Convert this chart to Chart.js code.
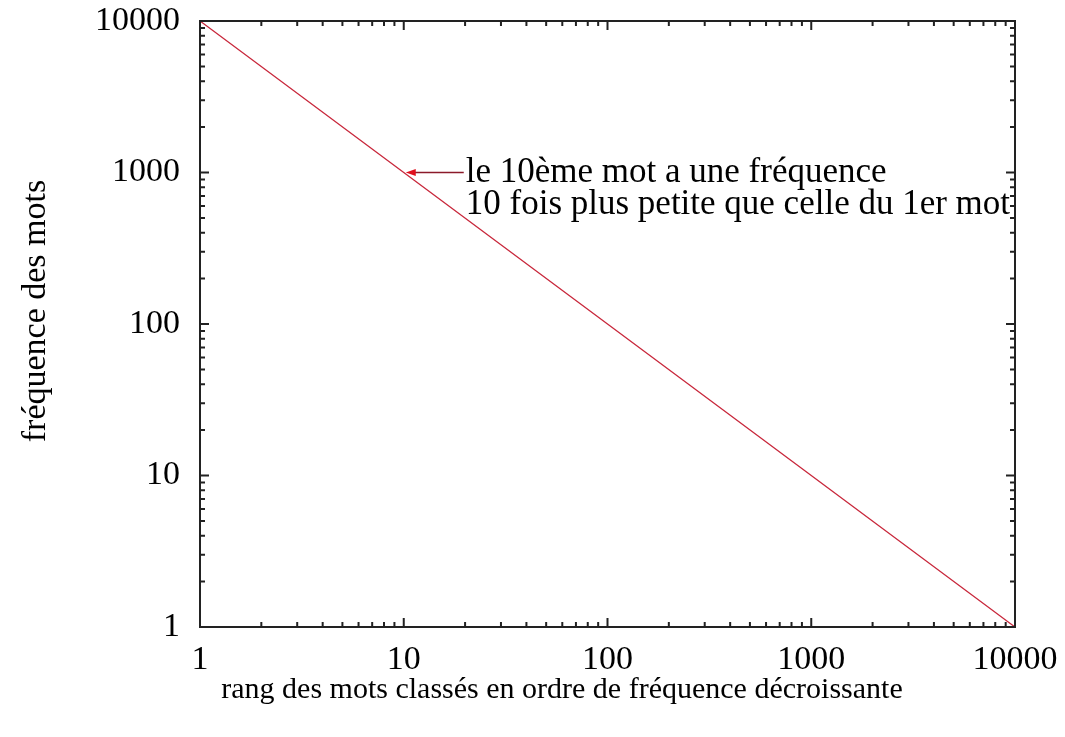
<!DOCTYPE html>
<html>
<head>
<meta charset="utf-8">
<script src="https://cdn.jsdelivr.net/npm/chart.js@4/dist/chart.umd.min.js"></script>
<style>
  html, body { margin: 0; padding: 0; background: #fff; }
  #wrap { width: 1065px; height: 737px; }
</style>
</head>
<body>
<div id="wrap"><canvas id="zipf"></canvas></div>
<script>
// Loi de Zipf : rang vs fréquence
const rangs = [1, 10, 100, 1000, 10000];
const frequences = [10000, 1000, 100, 10, 1];

// graduations principales
const ticksX = [1, 10, 100, 1000, 10000];
const ticksY = [1, 10, 100, 1000, 10000];

// textes
const titreX = 'rang des mots classés en ordre de fréquence décroissante';
const titreY = 'fréquence des mots';
const pointNote = [10, 1000];
const texteNote = [
    'le 10ème mot a une fréquence',
    '10 fois plus petite que celle du 1er mot'
];

const police = 'Liberation Serif, Times New Roman, serif';

// cadre + graduations vers l'intérieur (style gnuplot) + flèche + titres
const cadrePlugin = {
    id: 'cadre',
    afterDatasetsDraw(chart) {
        const { ctx, chartArea: a, scales } = chart;
        const x = scales.x, y = scales.y;
        ctx.save();
        ctx.strokeStyle = '#222';
        ctx.lineWidth = 2;
        ctx.strokeRect(a.left, a.top, a.right - a.left, a.bottom - a.top);

        for (let d = 1; d <= 10000; d *= 10) {
            for (let m = 1; m <= 9; m++) {
                const v = d * m;
                if (v > 10000) break;
                const len = m === 1 ? 9 : 5;
                const px = x.getPixelForValue(v);
                const py = y.getPixelForValue(v);
                ctx.beginPath();
                ctx.moveTo(px, a.bottom); ctx.lineTo(px, a.bottom - len);
                ctx.moveTo(px, a.top); ctx.lineTo(px, a.top + len);
                ctx.moveTo(a.left, py); ctx.lineTo(a.left + len, py);
                ctx.moveTo(a.right, py); ctx.lineTo(a.right - len, py);
                ctx.stroke();
            }
        }

        // flèche vers le 10e mot
        const ax = x.getPixelForValue(pointNote[0]);
        const ay = y.getPixelForValue(pointNote[1]);
        ctx.strokeStyle = '#8b1a2a';
        ctx.lineWidth = 1.5;
        ctx.beginPath();
        ctx.moveTo(ax + 60, ay);
        ctx.lineTo(ax + 8, ay);
        ctx.stroke();
        ctx.fillStyle = '#e0101e';
        ctx.beginPath();
        ctx.moveTo(ax + 2, ay);
        ctx.lineTo(ax + 12, ay - 3.5);
        ctx.lineTo(ax + 12, ay + 3.5);
        ctx.closePath();
        ctx.fill();

        ctx.fillStyle = '#000';
        ctx.font = '35px ' + police;
        ctx.textAlign = 'left';
        ctx.textBaseline = 'middle';
        texteNote.forEach((t, i) => ctx.fillText(t, ax + 62, ay + i * 32));

        // titres des axes
        ctx.textAlign = 'center';
        ctx.font = '30px ' + police;
        ctx.fillText(titreX, 562, 690);
        ctx.translate(36, 311);
        ctx.rotate(-Math.PI / 2);
        ctx.font = '34px ' + police;
        ctx.fillText(titreY, 0, 0);
        ctx.restore();
    }
};

new Chart(document.getElementById('zipf'), {
    type: 'line',
    data: {
        datasets: [{
            data: rangs.map((r, i) => ({ x: r, y: frequences[i] })),
            borderColor: '#c8283c',
            borderWidth: 1.3,
            pointRadius: 0,
            fill: false,
            tension: 0
        }]
    },
    options: {
        responsive: true,
        maintainAspectRatio: false,
        animation: false,
        layout: { padding: { top: 21, right: 50, left: 0, bottom: 0 } },
        plugins: { legend: { display: false }, tooltip: { enabled: false } },
        scales: {
            x: {
                type: 'logarithmic',
                min: 1,
                max: 10000,
                afterBuildTicks: axis => { axis.ticks = ticksX.map(v => ({ value: v })); },
                afterFit: axis => {
                    axis.height = 110;
                    axis.paddingLeft = 0;
                    axis.paddingRight = 0;
                },
                grid: { display: false, drawTicks: false },
                border: { display: false },
                ticks: {
                    autoSkip: false,
                    maxRotation: 0,
                    padding: 13,
                    color: '#000',
                    font: { family: police, size: 34 },
                    callback: v => String(v)
                }
            },
            y: {
                type: 'logarithmic',
                min: 1,
                max: 10000,
                afterBuildTicks: axis => { axis.ticks = ticksY.map(v => ({ value: v })); },
                afterFit: axis => {
                    axis.width = 200;
                    axis.paddingTop = 0;
                    axis.paddingBottom = 0;
                },
                grid: { display: false, drawTicks: false },
                border: { display: false },
                ticks: {
                    autoSkip: false,
                    padding: 20,
                    color: '#000',
                    font: { family: police, size: 34 },
                    callback: v => String(v)
                }
            }
        }
    },
    plugins: [cadrePlugin]
});
</script>
</body>
</html>
